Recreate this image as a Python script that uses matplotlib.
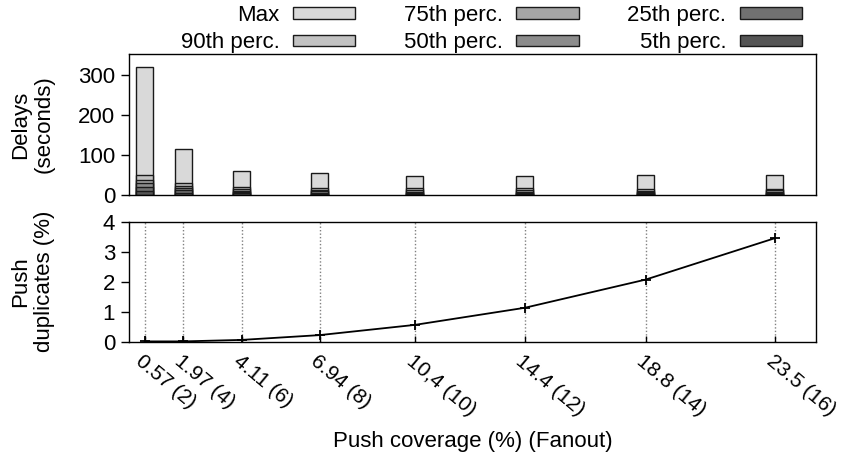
import numpy as np
import matplotlib
matplotlib.use('Agg')
import matplotlib.pyplot as plt

# push coverage (%) and fanout at each point
coverage = [0.57, 1.97, 4.11, 6.94, 10.4, 14.4, 18.8, 23.5]
fanout = [2, 4, 6, 8, 10, 12, 14, 16]
tick_labels = ['0.57 (2)', '1.97 (4)', '4.11 (6)', '6.94 (8)',
               '10,4 (10)', '14.4 (12)', '18.8 (14)', '23.5 (16)']

# delay percentiles (seconds)
delay_max = [319, 115, 61, 54, 47, 47, 49, 51]
delay_p90 = [50, 31, 20, 18, 17, 16.5, 15, 16]
delay_p75 = [37, 23, 14, 13, 12, 12, 11, 12]
delay_p50 = [29, 18, 10, 9, 8.5, 8.5, 8, 8.5]
delay_p25 = [21, 12, 7, 6, 6, 6, 5.5, 6]
delay_p5 = [11, 6, 4, 3, 3, 3, 3, 3]

# push duplicates (%)
duplicates = [0.01, 0.01, 0.06, 0.22, 0.56, 1.13, 2.07, 3.45]

plt.rcParams['font.family'] = ['Liberation Sans', 'DejaVu Sans']
plt.rcParams['font.size'] = 16

fig = plt.figure(figsize=(8.44, 4.59), dpi=100)
W, H = 844.0, 459.0
left = 129 / W
width = 687 / W
ax1 = fig.add_axes([left, 1 - 195 / H, width, 141 / H])
ax2 = fig.add_axes([left, 1 - 341.7 / H, width, 120 / H])

series = [('Max', delay_max, '#d9d9d9'),
          ('90th perc.', delay_p90, '#c2c2c2'),
          ('75th perc.', delay_p75, '#a6a6a6'),
          ('50th perc.', delay_p50, '#8c8c8c'),
          ('25th perc.', delay_p25, '#717171'),
          ('5th perc.', delay_p5, '#555555')]

x = np.array(coverage)
for name, vals, col in series:
    ax1.bar(x, vals, width=0.62, color=col, edgecolor='#1a1a1a',
            linewidth=1.0, label=name)

ax1.set_xlim(0, 25)
ax1.set_ylim(0, 352)
ax1.set_yticks([0, 100, 200, 300])
ax1.set_xticks([])
ax1.tick_params(axis='y', direction='out', length=6, width=1, pad=4)
ax1.set_ylabel('Delays\n(seconds)', linespacing=1.15)

# bottom panel
ax2.plot(x, duplicates, color='black', lw=1.3, marker='+',
         markersize=7, markeredgewidth=1.3)
ax2.set_xlim(0, 25)
ax2.set_ylim(0, 4)
ax2.set_yticks([0, 1, 2, 3, 4])
ax2.set_xticks(x)
ax2.set_xticklabels(tick_labels, rotation=-40, ha='left', va='top',
                    rotation_mode='anchor', fontsize=15)
ax2.tick_params(axis='x', direction='in', length=4, width=1, pad=7)
ax2.tick_params(axis='y', direction='out', length=6, width=1, pad=4)
for xv in x:
    ax2.axvline(xv, color='#808080', linestyle=(0, (1, 1.5)), lw=1, zorder=0)
ax2.set_ylabel('Push\nduplicates (%)', linespacing=1.15)
ax2.set_xlabel('Push coverage (%) (Fanout)')
ax2.xaxis.set_label_coords(0.5, -0.74)

# both y labels sit at the same distance from the figure edge
for ax in (ax1, ax2):
    ax.yaxis.set_label_coords(-0.108, 0.5)
    for sp in ax.spines.values():
        sp.set_linewidth(1.0)

handles, labels = ax1.get_legend_handles_labels()
fig.legend(handles, labels, ncol=3, markerfirst=False, frameon=False,
           loc='upper right', bbox_to_anchor=(802 / W, 1 - 5 / H),
           handlelength=2.8, handleheight=0.4, handletextpad=0.6,
           columnspacing=2.2, labelspacing=0.28, borderpad=0,
           borderaxespad=0)

fig.savefig('out.png', dpi=100)
